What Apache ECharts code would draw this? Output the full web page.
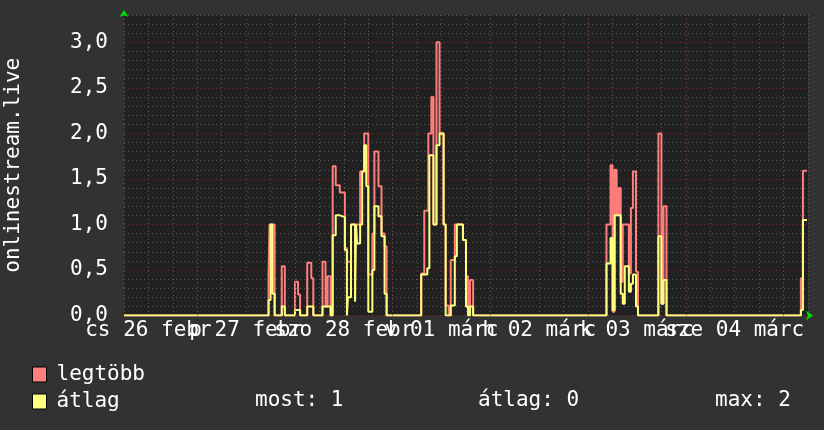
<!DOCTYPE html>
<html>
<head>
<meta charset="utf-8">
<script src="https://cdn.jsdelivr.net/npm/echarts@6/dist/echarts.min.js"></script>
<style>
  html, body { margin: 0; padding: 0; background: #323232; }
  #chart { width: 824px; height: 430px; }
</style>
</head>
<body>
<div id="chart"></div>
<script>
// Hours since Thu 26 Feb 00:00; each value holds until the next time.
const dayLabels = ['cs 26 febr', 'p 27 febr', 'szo 28 febr', 'v 01 márc', 'h 02 márc', 'k 03 márc', 'sze 04 márc'];
const yTickLabels = ['0,0', '0,5', '1,0', '1,5', '2,0', '2,5', '3,0'];

const maxTimes = [6, 41.5, 41.75, 43.0, 44.75, 45.5, 48.0, 48.75, 49.25, 51.0, 52.0, 52.5, 54.75, 55.5, 56.0, 56.75,
  57.25, 58.0, 59.0, 60.25, 60.75, 61.75, 64.0, 65.0, 66.0, 67.0, 67.5, 68.5, 69.25, 70.0, 70.5,
  79.0, 79.75, 80.75, 81.5, 82.0, 82.75, 83.5, 84.5, 85.0, 85.75, 86.25, 87.25, 89.25, 90.0, 90.5, 91.0, 91.75,
  124.5, 125.5, 126.0, 126.5, 127.0, 127.5, 128.0, 128.5, 130.0, 130.5, 131.0, 131.75, 132.25,
  137.25, 138.0, 138.5, 139.25, 172.25, 172.75, 173.75];
const maxValues = [0, 0.46, 1.0, 0, 0.54, 0, 0.37, 0.23, 0, 0.58, 0.41, 0, 0.59, 0.1, 0.43, 0,
  1.64, 1.43, 1.35, 0.74, 0.59, 1.0, 1.58, 2.0, 0.45, 0.9, 1.8, 1.42, 0.9, 0.76, 0,
  0.46, 1.15, 2.0, 2.4, 1.0, 3.0, 2.0, 1.0, 0.11, 0, 0.61, 1.0, 0.83, 0.43, 0.1, 0.39, 0,
  1.0, 1.65, 0.04, 1.6, 1.1, 1.4, 0.37, 1.0, 0.46, 1.18, 1.58, 0.48, 0,
  2.0, 0.13, 1.2, 0, 0.41, 1.59, 1.59];

const avgTimes = [6, 41.5, 42.0, 42.5, 43.0, 44.75, 45.5, 48.0, 49.25, 51.0, 52.5, 54.75, 56.75,
  57.25, 58.0, 59.0, 60.25, 60.75, 61.0, 61.75, 62.75, 63.0, 63.25, 64.0, 64.5, 65.0, 65.5, 66.0, 67.0, 67.5, 68.5, 69.25, 70.0, 70.5,
  79.0, 80.5, 81.0, 82.0, 82.75, 83.5, 84.5, 85.0, 86.25, 87.25, 87.75, 89.25, 90.0, 90.5, 91.0, 91.75,
  124.5, 125.5, 126.0, 126.5, 128.0, 128.5, 129.0, 130.0, 130.5, 131.0, 131.75, 132.25,
  137.25, 138.0, 138.5, 139.25, 172.25, 172.75, 173.75];
const avgValues = [0, 0.17, 1.0, 0.24, 0, 0.1, 0, 0.06, 0, 0.1, 0, 0.1, 0,
  0.88, 1.1, 1.08, 0.72, 0, 0.2, 1.0, 0.15, 1.0, 0.79, 1.0, 1.58, 1.87, 1.42, 0.04, 0.5, 1.2, 1.09, 0.87, 0.24, 0,
  0.45, 0.52, 1.76, 1.0, 1.87, 2.0, 1.0, 0, 0.11, 0.65, 1.0, 0.83, 0.1, 0, 0.1, 0,
  0.57, 0.85, 0.06, 1.1, 0.24, 0.13, 0.54, 0.26, 0.35, 0.45, 0.1, 0,
  0.87, 0.13, 0.39, 0, 0.06, 1.05, 1.05];

const xMin = 6, xMax = 174;
const FONT = 'DejaVu Sans Mono';
const FS = 21;

const pairs = (t, v) => t.map((x, i) => [x, v[i]]);

// statistics for the legend line (avg series)
const mostVal = avgValues[avgValues.length - 1];
let area = 0;
for (let i = 0; i < avgTimes.length - 1; i++) area += avgValues[i] * (avgTimes[i + 1] - avgTimes[i]);
const meanVal = area / (xMax - xMin);
const maxVal = Math.max.apply(null, avgValues);

const midnights = [];
for (let h = 24; h < xMax; h += 24) midnights.push({ xAxis: h });

const chart = echarts.init(document.getElementById('chart'), null, { renderer: 'canvas' });
chart.setOption({
  backgroundColor: '#323232',
  animation: false,
  textStyle: { fontFamily: FONT },
  grid: { left: 124, right: 16, top: 15, bottom: 114.5, show: true, backgroundColor: '#212121', borderWidth: 0,
    containLabel: false, outerBoundsMode: 'none' },
  legend: {
    orient: 'vertical', left: 32, top: 364, padding: 0, itemGap: 6, itemWidth: 14, itemHeight: 15,
    icon: 'rect', selectedMode: false,
    itemStyle: { borderColor: '#000', borderWidth: 1 },
    textStyle: { color: '#fff', fontFamily: FONT, fontSize: FS, padding: [0, 0, 0, 5] },
    data: ['legtöbb', 'átlag']
  },
  graphic: [
    { type: 'text', left: 255, top: 390, style: { text: 'most: ' + mostVal.toFixed(0), fill: '#fff', font: FS + 'px "DejaVu Sans Mono"' } },
    { type: 'text', left: 478, top: 390, style: { text: 'átlag: ' + meanVal.toFixed(0), fill: '#fff', font: FS + 'px "DejaVu Sans Mono"' } },
    { type: 'text', left: 715, top: 390, style: { text: 'max: ' + maxVal.toFixed(0), fill: '#fff', font: FS + 'px "DejaVu Sans Mono"' } }
  ],
  xAxis: [{
    type: 'value', min: xMin, max: xMax, interval: 6, position: 'bottom',
    axisLine: { show: true, lineStyle: { color: '#00dd00', width: 0 }, symbol: ['none', 'arrow'], symbolSize: [7, 7], symbolOffset: [0, 5] },
    axisTick: { show: false },
    splitLine: { show: true, lineStyle: { color: '#5a5a5a', type: [1, 3], width: 1 } },
    axisLabel: {
      color: '#fff', fontSize: FS, fontFamily: FONT, margin: 5, showMinLabel: true, showMaxLabel: true,
      formatter: v => (Math.round(v) % 24 === 12 ? dayLabels[(Math.round(v) - 12) / 24] : '')
    }
  }],
  yAxis: [{
    type: 'value', min: 0, max: 3.3, interval: 0.1, position: 'left',
    axisLine: { show: false }, axisTick: { show: false }, axisLabel: { show: false },
    splitLine: { show: true, lineStyle: { color: '#5a5a5a', type: [1, 3], width: 1 } }
  }, {
    type: 'value', min: 0, max: 3.3, interval: 0.5, position: 'left', offset: 0,
    name: 'onlinestream.live', nameLocation: 'middle', nameGap: 100,
    nameTextStyle: { color: '#fff', fontSize: FS, fontFamily: FONT },
    axisLine: { show: true, lineStyle: { color: '#00dd00', width: 0 }, symbol: ['none', 'arrow'], symbolSize: [7, 7], symbolOffset: [0, 5] },
    axisTick: { show: false },
    splitLine: { show: true, showMaxLine: false, lineStyle: { color: '#7a3030', type: [1, 3], width: 1 } },
    axisLabel: {
      color: '#fff', fontSize: FS, fontFamily: FONT, margin: 16, showMaxLabel: false,
      formatter: v => { const i = Math.round(v / 0.5); return (Math.abs(v - i * 0.5) < 1e-6 && yTickLabels[i]) ? yTickLabels[i] : ''; }
    }
  }],
  series: [
    {
      name: 'grid', type: 'line', data: [], silent: true, yAxisIndex: 1,
      markLine: { symbol: 'none', silent: true, label: { show: false }, animation: false,
        lineStyle: { color: '#7a3030', type: [1, 3], width: 1 }, data: midnights }
    },
    {
      name: 'legtöbb', type: 'line', yAxisIndex: 1, step: 'end', showSymbol: false, color: '#ff7f7f',
      lineStyle: { width: 2, color: '#ff7f7f' }, data: pairs(maxTimes, maxValues)
    },
    {
      name: 'átlag', type: 'line', yAxisIndex: 1, step: 'end', showSymbol: false, color: '#ffff7f',
      lineStyle: { width: 2, color: '#ffff7f' }, data: pairs(avgTimes, avgValues)
    }
  ]
});
</script>
</body>
</html>
